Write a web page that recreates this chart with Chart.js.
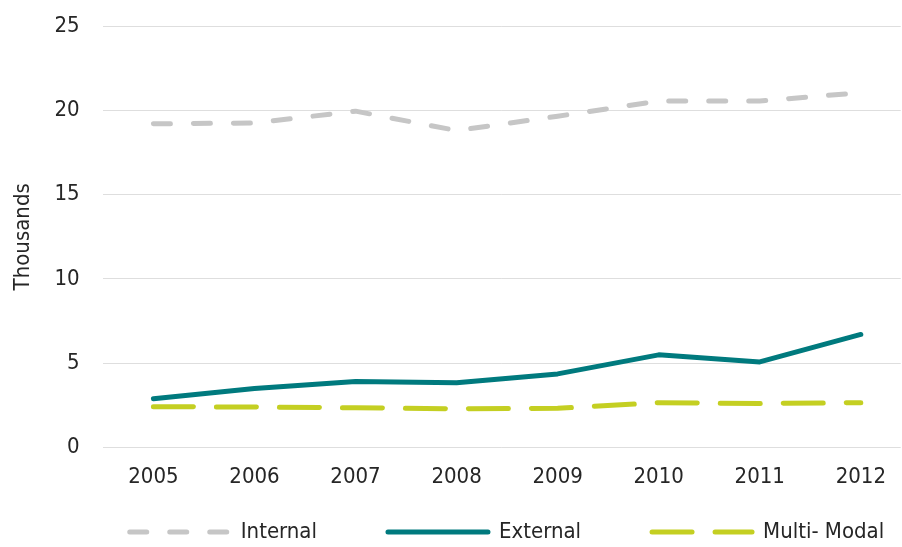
<!DOCTYPE html>
<html>
<head>
<meta charset="utf-8">
<script src="https://cdn.jsdelivr.net/npm/chart.js@4.4.1/dist/chart.umd.min.js"></script>
<style>
  html, body { margin: 0; padding: 0; background: #ffffff; }
  #wrap { width: 902px; height: 547px; position: relative; }
</style>
</head>
<body>
<div id="wrap"><canvas id="c"></canvas></div>
<script>
const years = [2005, 2006, 2007, 2008, 2009, 2010, 2011, 2012];
const internal = [19.2, 19.25, 19.95, 18.8, 19.65, 20.55, 20.55, 21.05];
const external = [2.9, 3.5, 3.92, 3.84, 4.37, 5.5, 5.08, 6.71];
const multiModal = [2.42, 2.41, 2.36, 2.3, 2.33, 2.66, 2.62, 2.66];
const yTicks = [0, 5, 10, 15, 20, 25];
const seriesNames = ['Internal', 'External', 'Multi- Modal'];

const FONT = '"DejaVu Sans Condensed", "Liberation Sans Narrow", sans-serif';
const TEXT = '#262626';
const FS = 22;

const toPoints = (vals) => vals.map((v, i) => ({ x: years[i], y: v }));

const legendPlace = {
  id: 'legendPlace',
  afterLayout(chart) {
    const lg = chart.legend;
    if (lg) {
      lg.left += 56; lg.right += 56;
      lg.top = 450; lg.bottom = chart.height;
      lg.height = lg.bottom - lg.top;
    }
  }
};

new Chart(document.getElementById('c'), {
  type: 'line',
  data: {
    datasets: [
      {
        label: seriesNames[0], data: toPoints(internal),
        borderColor: '#c6c6c6', backgroundColor: '#c6c6c6',
        borderWidth: 5, borderDash: [17, 23], borderCapStyle: 'round', borderJoinStyle: 'round',
        pointRadius: 0, tension: 0
      },
      {
        label: seriesNames[1], data: toPoints(external),
        borderColor: '#007a7e', backgroundColor: '#007a7e',
        borderWidth: 5, borderCapStyle: 'round', borderJoinStyle: 'round',
        pointRadius: 0, tension: 0
      },
      {
        label: seriesNames[2], data: toPoints(multiModal),
        borderColor: '#c4cf22', backgroundColor: '#c4cf22',
        borderWidth: 5, borderDash: [40, 23], borderCapStyle: 'round', borderJoinStyle: 'round',
        pointRadius: 0, tension: 0
      }
    ]
  },
  plugins: [legendPlace],
  options: {
    responsive: true,
    maintainAspectRatio: false,
    animation: false,
    layout: { padding: { top: 26, right: 0, bottom: 1, left: 0 } },
    plugins: {
      tooltip: { enabled: false },
      legend: {
        position: 'bottom',
        maxHeight: 40,
        labels: {
          usePointStyle: true,
          pointStyle: 'line',
          pointStyleWidth: 100,
          boxHeight: 5,
          padding: 71,
          color: TEXT,
          font: { family: FONT, size: FS },
          generateLabels(chart) {
            const items = Chart.defaults.plugins.legend.labels.generateLabels(chart);
            items.forEach(it => {
              const ds = chart.data.datasets[it.datasetIndex];
              it.lineDash = ds.borderDash || [];
              it.lineCap = 'round';
              it.lineWidth = 5;
              it.strokeStyle = ds.borderColor;
              it.fillStyle = ds.borderColor;
            });
            return items;
          }
        }
      }
    },
    scales: {
      x: {
        type: 'linear',
        min: 2004.497,
        max: 2012.395,
        afterBuildTicks: (axis) => { axis.ticks = years.map(v => ({ value: v })); },
        grid: { display: false, drawTicks: false },
        border: { display: false },
        ticks: {
          color: TEXT, font: { family: FONT, size: FS }, padding: 16, maxRotation: 0,
          autoSkip: false,
          callback: (v) => String(v)
        }
      },
      y: {
        min: 0, max: 25,
        afterBuildTicks: (axis) => { axis.ticks = yTicks.map(v => ({ value: v })); },
        afterFit: (axis) => { axis.paddingTop = 0; axis.paddingBottom = 0; },
        grid: { color: '#dedede', lineWidth: 1, drawTicks: false },
        border: { display: false },
        ticks: { color: TEXT, font: { family: FONT, size: FS }, padding: 23 },
        title: {
          display: true, text: 'Thousands', color: TEXT,
          font: { family: FONT, size: FS },
          padding: { top: 10, bottom: -5 }
        }
      }
    }
  }
});
</script>
</body>
</html>
